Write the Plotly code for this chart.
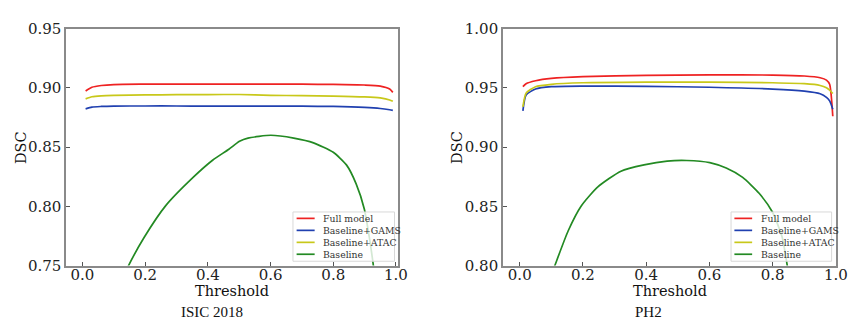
import plotly.graph_objects as go

# ---------------- data ----------------
series_names = ["Full model", "Baseline+GAMS", "Baseline+ATAC", "Baseline"]
colors = ["#ee2222", "#2040b0", "#c8c81a", "#238a23"]

# ISIC 2018
isic_thr = [0.01, 0.03, 0.06, 0.1, 0.2, 0.3, 0.4, 0.5, 0.6, 0.7, 0.8, 0.9, 0.95, 0.98, 0.99]
isic_full = [0.8974, 0.9005, 0.9020, 0.9028, 0.9031, 0.9032, 0.9032, 0.9032, 0.9032, 0.9031, 0.9029, 0.9024, 0.9015, 0.8990, 0.8962]
isic_gams = [0.8823, 0.8838, 0.8843, 0.8846, 0.8847, 0.8847, 0.8846, 0.8846, 0.8845, 0.8845, 0.8843, 0.8835, 0.8826, 0.8815, 0.8810]
isic_atac = [0.8907, 0.8925, 0.8933, 0.8937, 0.8940, 0.8942, 0.8943, 0.8944, 0.8937, 0.8934, 0.8931, 0.8924, 0.8915, 0.8898, 0.8886]
isic_base_thr = [0.13, 0.147, 0.197, 0.265, 0.352, 0.415, 0.467, 0.501, 0.528, 0.601, 0.674, 0.737, 0.8, 0.842, 0.873, 0.899, 0.915, 0.928, 0.935]
isic_base = [0.740, 0.750, 0.7739, 0.8004, 0.8242, 0.8389, 0.8482, 0.8549, 0.8576, 0.8600, 0.8576, 0.8536, 0.8456, 0.8350, 0.8190, 0.7978, 0.7740, 0.7500, 0.7350]

# PH2
ph2_thr = [0.01, 0.02, 0.05, 0.1, 0.2, 0.4, 0.6, 0.8, 0.9, 0.95, 0.97, 0.98, 0.99]
ph2_full = [0.9510, 0.9535, 0.9560, 0.9580, 0.9595, 0.9605, 0.9610, 0.9608, 0.9600, 0.9585, 0.9565, 0.9530, 0.9260]
ph2_gams = [0.9306, 0.9440, 0.9490, 0.9510, 0.9515, 0.9513, 0.9505, 0.9490, 0.9472, 0.9450, 0.9420, 0.9390, 0.9320]
ph2_atac = [0.9340, 0.9455, 0.9510, 0.9530, 0.9543, 0.9548, 0.9548, 0.9543, 0.9535, 0.9520, 0.9500, 0.9480, 0.9452]
ph2_base_thr = [0.10, 0.111, 0.153, 0.195, 0.247, 0.32, 0.393, 0.466, 0.528, 0.601, 0.653, 0.705, 0.757, 0.799, 0.83, 0.846, 0.855]
ph2_base = [0.792, 0.800, 0.8292, 0.8505, 0.8664, 0.8797, 0.8850, 0.8882, 0.8887, 0.8869, 0.8823, 0.8744, 0.8610, 0.8452, 0.8239, 0.8000, 0.7850]

x_ticks = [0.0, 0.2, 0.4, 0.6, 0.8, 1.0]
x_ticktext = ["0.0", "0.2", "0.4", "0.6", "0.8", "1.0"]
isic_yticks = [0.75, 0.80, 0.85, 0.90, 0.95]
isic_yticktext = ["0.75", "0.80", "0.85", "0.90", "0.95"]
ph2_yticks = [0.80, 0.85, 0.90, 0.95, 1.00]
ph2_yticktext = ["0.80", "0.85", "0.90", "0.95", "1.00"]

# ---------------- figure ----------------
fig = go.Figure()
SERIF = "DejaVu Serif"
W, H = 858, 322

def add(x, y, i, xa, ya):
    fig.add_trace(go.Scatter(x=x, y=y, mode="lines", name=series_names[i], showlegend=False,
                             line=dict(color=colors[i], width=1.7, shape="spline", smoothing=0.6),
                             xaxis=xa, yaxis=ya))

add(isic_thr, isic_full, 0, "x", "y")
add(isic_thr, isic_gams, 1, "x", "y")
add(isic_thr, isic_atac, 2, "x", "y")
add(isic_base_thr, isic_base, 3, "x", "y")
add(ph2_thr, ph2_full, 0, "x2", "y2")
add(ph2_thr, ph2_gams, 1, "x2", "y2")
add(ph2_thr, ph2_atac, 2, "x2", "y2")
add(ph2_base_thr, ph2_base, 3, "x2", "y2")

ytop = 1 - 12.3 / H
ybot = 1 - 263.3 / H

axis_common = dict(showline=True, linecolor="#8a8a8a", linewidth=1.5, mirror=True,
                   ticks="inside", ticklen=4, tickcolor="#555", showgrid=False, zeroline=False,
                   tickfont=dict(family=SERIF, size=15, color="#222"))

fig.update_layout(
    width=W, height=H, margin=dict(l=0, r=0, t=0, b=0),
    plot_bgcolor="white", paper_bgcolor="white", showlegend=False,
    xaxis=dict(domain=[59 / W, 396 / W], range=[-0.052, 1.008], tickvals=x_ticks,
               ticktext=x_ticktext, anchor="y", ticklabelstandoff=-5, **axis_common),
    yaxis=dict(domain=[ybot, ytop], range=[0.75, 0.95], tickvals=isic_yticks,
               ticktext=isic_yticktext, anchor="x", **axis_common),
    xaxis2=dict(domain=[502 / W, 839.7 / W], range=[-0.053, 1.0], tickvals=x_ticks,
                ticktext=x_ticktext, anchor="y2", ticklabelstandoff=-5, **axis_common),
    yaxis2=dict(domain=[ybot, ytop], range=[0.80, 1.00], tickvals=ph2_yticks,
                ticktext=ph2_yticktext, anchor="x2", **axis_common),
)

# ---- manual compact legends (matplotlib style) ----
row_y = [213.3, 226.0, 238.7, 251.3]
for box_l, box_r, line_l, line_r, text_x in [(289, 392, 292.7, 311, 317.3),
                                             (733.3, 835.3, 736.7, 754.7, 761.3)]:
    fig.add_shape(type="rect", xref="paper", yref="paper",
                  x0=box_l / W, x1=box_r / W, y0=1 - 258.7 / H, y1=1 - 206.5 / H,
                  line=dict(color="#d8d8d8", width=1), fillcolor="rgba(255,255,255,0.8)", layer="above")
    for i, name in enumerate(series_names):
        yy = 1 - row_y[i] / H
        fig.add_shape(type="line", xref="paper", yref="paper", x0=line_l / W, x1=line_r / W,
                      y0=yy, y1=yy, line=dict(color=colors[i], width=1.7), layer="above")
        fig.add_annotation(text=name, x=text_x / W, y=yy, xref="paper", yref="paper",
                           showarrow=False, xanchor="left", yanchor="middle",
                           font=dict(family=SERIF, size=9.3, color="#333"))

ann = [
    dict(text="Threshold", x=227 / W, y=1 - 290 / H, size=14.5, fam=SERIF),
    dict(text="Threshold", x=671 / W, y=1 - 290 / H, size=14.5, fam=SERIF),
]
for a in ann:
    fig.add_annotation(text=a["text"], x=a["x"], y=a["y"], xref="paper", yref="paper",
                       showarrow=False, xanchor="center", yanchor="middle",
                       font=dict(family=a["fam"], size=a["size"], color="#111"))
for txt, xc in [("ISIC 2018", 207 / W), ("PH2", 650 / W)]:
    fig.add_annotation(text=txt, x=xc, y=0, xref="paper", yref="paper",
                       showarrow=False, xanchor="center", yanchor="bottom", borderpad=0,
                       font=dict(family="Liberation Serif", size=15, color="#111"))
for xc in [13 / W, 456 / W]:
    fig.add_annotation(text="DSC", x=xc, y=1 - 138 / H, xref="paper", yref="paper",
                       showarrow=False, textangle=-90, xanchor="center", yanchor="middle",
                       font=dict(family=SERIF, size=14.5, color="#111"))

fig.write_html("out.html")
